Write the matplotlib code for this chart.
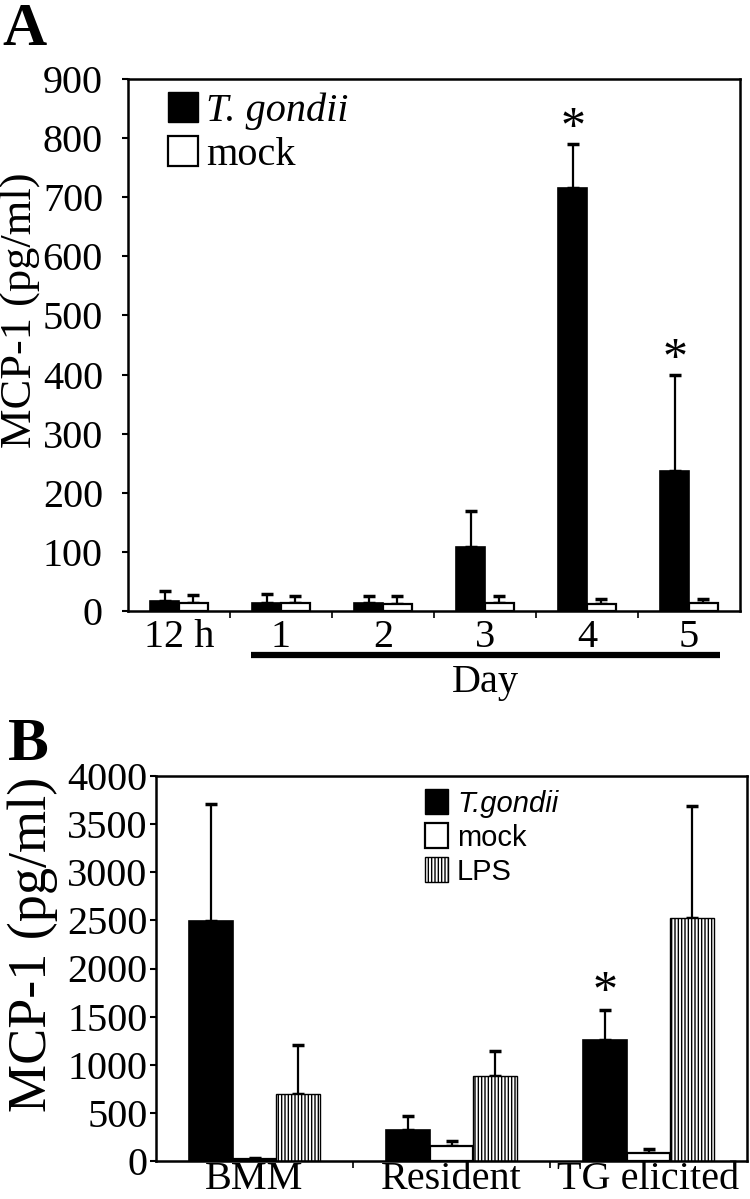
import numpy as np
import matplotlib
matplotlib.use("Agg")
import matplotlib.pyplot as plt
from matplotlib.patches import Patch
import matplotlib.transforms as mtransforms

# panel A: MCP-1 over time
a_groups = ["12 h", "1", "2", "3", "4", "5"]
a_tg = [17, 14, 14, 108, 715, 236]
a_tg_top = [34, 28, 25, 170, 790, 400]
a_mock = [14, 14, 12, 14, 12, 14]
a_mock_top = [27, 25, 25, 25, 20, 20]
a_star = [False, False, False, False, True, True]

# panel B: macrophage types
b_groups = ["BMM", "Resident", "TG elicited"]
b_tg = [2490, 326, 1253]
b_tg_top = [3709, 464, 1573]
b_mock = [24, 155, 86]
b_mock_top = [35, 206, 120]
b_lps = [694, 883, 2524]
b_lps_top = [1202, 1140, 3692]
b_star = [False, False, True]

serif = ["Liberation Serif", "DejaVu Serif"]
sans = ["Liberation Sans", "DejaVu Sans"]
plt.rcParams["font.family"] = serif
plt.rcParams["hatch.linewidth"] = 1.0

W, H = 750, 1199
fig = plt.figure(figsize=(W / 100, H / 100), dpi=100)

def box(l, t, r, b):
    return [l / W, 1 - b / H, (r - l) / W, (b - t) / H]

def upper_err(ax, x, val, top):
    val = np.asarray(val, float)
    top = np.asarray(top, float)
    ax.errorbar(x, val, yerr=[np.zeros_like(val), top - val], fmt="none",
                ecolor="black", elinewidth=1.6, capsize=4, capthick=2.5, zorder=1)

def star(ax, x, y, dy):
    ax.annotate("*", (x, y), xytext=(0, dy), textcoords="offset points",
                ha="center", va="center", fontsize=36)

def style(ax, fs):
    for s in ax.spines.values():
        s.set_linewidth(1.8)
    ax.tick_params(axis="y", direction="out", length=4, width=1.5, labelsize=fs)
    ax.tick_params(axis="x", which="major", length=0, labelsize=fs)
    ax.tick_params(axis="x", which="minor", direction="out", length=5, width=1.2)

# ---- A ----
axA = fig.add_axes(box(128, 79, 740, 611))
xa = np.arange(len(a_groups))
wa = 0.28
axA.bar(xa - wa / 2, a_tg, wa, color="black", edgecolor="black", linewidth=1.2, zorder=2)
axA.bar(xa + wa / 2, a_mock, wa, color="white", edgecolor="black", linewidth=1.6, zorder=2)
upper_err(axA, xa - wa / 2, a_tg, a_tg_top)
upper_err(axA, xa + wa / 2, a_mock, a_mock_top)
for i, s in enumerate(a_star):
    if s:
        star(axA, xa[i] - wa / 2, a_tg_top[i], 11)
axA.set_xlim(-0.5, len(a_groups) - 0.5)
axA.set_ylim(0, 900)
axA.set_yticks(np.arange(0, 901, 100))
axA.set_xticks(xa)
axA.set_xticklabels(a_groups)
axA.set_xticks(xa[:-1] + 0.5, minor=True)
style(axA, 29)
axA.tick_params(axis="y", pad=14)
axA.tick_params(axis="x", which="major", pad=6)
trA = mtransforms.blended_transform_factory(axA.transData, axA.transAxes)
axA.plot([0.71, 5.3], [-0.083, -0.083], transform=trA, color="black", lw=4.5,
         clip_on=False, solid_capstyle="butt")
axA.text(3.0, -0.135, "Day", transform=trA, ha="center", va="center", fontsize=29)
legA = axA.legend(handles=[Patch(facecolor="black", edgecolor="black"),
                           Patch(facecolor="white", edgecolor="black", linewidth=1.6)],
                  labels=["T. gondii", "mock"], loc="upper left", bbox_to_anchor=(0.065, 0.975),
                  frameon=False, handlelength=0.75, handleheight=0.75, handletextpad=0.2,
                  labelspacing=0.15, borderpad=0, borderaxespad=0, fontsize=29)
legA.get_texts()[0].set_fontstyle("italic")
fig.text(20 / W, 1 - 310 / H, "MCP-1 (pg/ml)", rotation=90, ha="center", va="center", fontsize=32)
fig.text(2 / W, 1 - 45 / H, "A", fontsize=44, fontweight="bold", va="baseline", ha="left")

# ---- B ----
axB = fig.add_axes(box(156, 776, 747, 1161))
xb = np.arange(len(b_groups))
wb = 0.22
axB.bar(xb - wb, b_tg, wb, color="black", edgecolor="black", linewidth=1.2, zorder=2)
axB.bar(xb, b_mock, wb, color="white", edgecolor="black", linewidth=1.6, zorder=2)
axB.bar(xb + wb, b_lps, wb, color="white", edgecolor="black", linewidth=1.0,
        hatch="|||||", zorder=2)
upper_err(axB, xb - wb, b_tg, b_tg_top)
upper_err(axB, xb, b_mock, b_mock_top)
upper_err(axB, xb + wb, b_lps, b_lps_top)
for i, s in enumerate(b_star):
    if s:
        star(axB, xb[i] - wb, b_tg_top[i], 12)
axB.set_xlim(-0.5, len(b_groups) - 0.5)
axB.set_ylim(0, 4000)
axB.set_yticks(np.arange(0, 4001, 500))
axB.set_xticks(xb)
axB.set_xticklabels(b_groups)
axB.set_xticks(xb[:-1] + 0.5, minor=True)
style(axB, 29)
axB.tick_params(axis="y", pad=2)
axB.tick_params(axis="x", which="major", labelsize=29, pad=0)
legB = axB.legend(handles=[Patch(facecolor="black", edgecolor="black"),
                           Patch(facecolor="white", edgecolor="black", linewidth=1.6),
                           Patch(facecolor="white", edgecolor="black", linewidth=1.0, hatch="|||||")],
                  labels=["T.gondii", "mock", "LPS"], loc="upper left", bbox_to_anchor=(0.455, 0.965),
                  frameon=False, handlelength=0.8, handleheight=0.9, handletextpad=0.3,
                  labelspacing=0.2, borderpad=0, borderaxespad=0,
                  prop={"family": sans, "size": 21})
legB.get_texts()[0].set_fontstyle("italic")
fig.text(33 / W, 1 - 944 / H, "MCP-1 (pg/ml)", rotation=90, ha="center", va="center", fontsize=39)
fig.text(8 / W, 1 - 760 / H, "B", fontsize=44, fontweight="bold", va="baseline", ha="left")

fig.savefig("out.png", dpi=100)
